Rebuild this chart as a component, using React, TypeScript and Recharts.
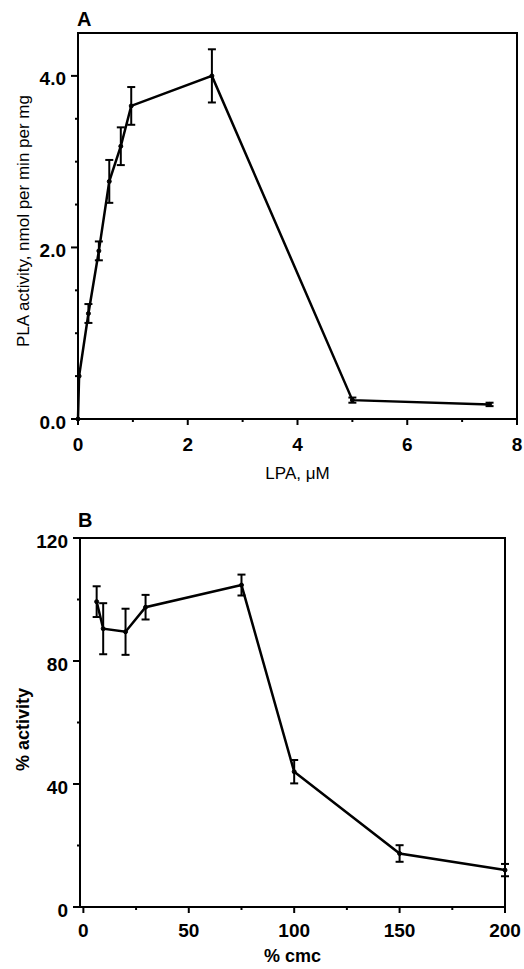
import React from 'react';
import { LineChart, Line, XAxis, YAxis, ErrorBar, ReferenceArea, Label } from 'recharts';

// Panel A: PLA activity vs LPA concentration
const lpaConc = [0, 0.02, 0.19, 0.38, 0.57, 0.78, 0.97, 2.44, 5.0, 7.5];
const plaActivity = [0, 0.5, 1.23, 1.96, 2.77, 3.18, 3.65, 4.0, 0.22, 0.17];
const plaError = [null, null, 0.11, 0.11, 0.25, 0.22, 0.22, 0.31, 0.03, 0.02];

const lpaTicks = [0, 1, 2, 3, 4, 5, 6, 7, 8];
const lpaLabels = [0, 2, 4, 6, 8];
const plaTicks = [0, 0.5, 1, 1.5, 2, 2.5, 3, 3.5, 4];
const plaLabels = [0, 2, 4];

// Panel B: % activity vs % cmc
const cmcPct = [6.3, 9.4, 20, 29.5, 75, 100, 150, 200];
const activityPct = [99.3, 90.5, 89.5, 97.5, 104.7, 44, 17.4, 12];
const activityError = [5, 8.3, 7.5, 4, 3.4, 3.8, 2.7, 2];

const cmcTicks = [0, 25, 50, 75, 100, 125, 150, 175, 200];
const cmcLabels = [0, 50, 100, 150, 200];
const actTicks = [0, 20, 40, 60, 80, 100, 120];
const actLabels = [0, 40, 80, 120];

const dataA = lpaConc.map((x, i) => ({ x, y: plaActivity[i], err: plaError[i] }));
const dataB = cmcPct.map((x, i) => ({ x, y: activityPct[i], err: activityError[i] }));

const FONT = '"Liberation Sans", Arial, Helvetica, sans-serif';
const tickStyle = { fontFamily: FONT, fontSize: 19, fontWeight: 700, fill: '#000' };

const makeXTick = (labels: number[], gap: number) => (props: any) => {
  const { x, y, payload } = props;
  const major = labels.includes(payload.value);
  return (
    <g>
      <line x1={x} y1={y} x2={x} y2={y + (major ? 6 : 3)} stroke="#000" strokeWidth={2} />
      {major && (
        <text x={x} y={y + gap} textAnchor="middle" dominantBaseline="central" style={tickStyle}>
          {payload.value}
        </text>
      )}
    </g>
  );
};

const makeYTick = (labels: number[], fmt: (v: number) => string) => (props: any) => {
  const { x, y, payload } = props;
  const major = labels.includes(payload.value);
  return (
    <g>
      <line x1={x} y1={y} x2={x - (major ? 7 : 3)} y2={y} stroke="#000" strokeWidth={2} />
      {major && (
        <text x={x - 12} y={y + 3} textAnchor="end" dominantBaseline="central" style={tickStyle}>
          {fmt(payload.value)}
        </text>
      )}
    </g>
  );
};

const xTitle = (text: string, dy: number, style: any) => (props: any) => {
  const { viewBox } = props;
  return (
    <text x={viewBox.x + viewBox.width / 2} y={viewBox.y + dy} textAnchor="middle" dominantBaseline="central" style={style}>
      {text}
    </text>
  );
};

const yTitle = (text: string, cx: number, dy: number, style: any) => (props: any) => {
  const { viewBox } = props;
  const cy = viewBox.y + viewBox.height / 2 + dy;
  return (
    <text x={cx} y={cy} transform={`rotate(-90 ${cx} ${cy})`} textAnchor="middle" dominantBaseline="central" style={style}>
      {text}
    </text>
  );
};

const letterStyle: React.CSSProperties = {
  position: 'absolute',
  fontFamily: FONT,
  fontSize: 20,
  fontWeight: 700,
  lineHeight: '20px',
  color: '#000',
};

export default function App() {
  return (
    <div style={{ position: 'absolute', left: 0, top: 0, width: 524, height: 969, background: '#fff' }}>
      <div style={{ ...letterStyle, left: 77, top: 9 }}>A</div>
      <div style={{ ...letterStyle, left: 78, top: 510 }}>B</div>

      <div style={{ position: 'absolute', left: 0, top: 0 }}>
        <LineChart width={524} height={485} data={dataA} margin={{ top: 33, right: 7, bottom: 6, left: 0 }}>
          <XAxis
            dataKey="x"
            type="number"
            domain={[0, 8]}
            ticks={lpaTicks}
            interval={0}
            height={60}
            axisLine={false}
            tickLine={false}
            tickSize={0}
            tickMargin={0}
            tick={makeXTick(lpaLabels, 25)}
          >
            <Label content={xTitle('LPA, μM', 54, { fontFamily: FONT, fontSize: 17, fill: '#000' })} />
          </XAxis>
          <YAxis
            type="number"
            domain={[0, 4.5]}
            ticks={plaTicks}
            interval={0}
            width={78}
            axisLine={false}
            tickLine={false}
            tickSize={0}
            tickMargin={0}
            tick={makeYTick(plaLabels, (v) => v.toFixed(1))}
          >
            <Label content={yTitle('PLA activity, nmol per min per mg', 23, -5, { fontFamily: FONT, fontSize: 17, fill: '#000' })} />
          </YAxis>
          <ReferenceArea x1={0} x2={8} y1={0} y2={4.5} fill="none" stroke="#000" strokeWidth={2} fillOpacity={0} />
          <Line
            dataKey="y"
            stroke="#000"
            strokeWidth={2.5}
            dot={{ r: 2, fill: '#000', stroke: '#000', strokeWidth: 1 }}
            isAnimationActive={false}
          >
            <ErrorBar dataKey="err" direction="y" width={4} stroke="#000" strokeWidth={2} />
          </Line>
        </LineChart>
      </div>

      <div style={{ position: 'absolute', left: 0, top: 485 }}>
        <LineChart width={524} height={484} data={dataB} margin={{ top: 53, right: 19, bottom: 2, left: 0 }}>
          <XAxis
            dataKey="x"
            type="number"
            domain={[-1.6, 200]}
            ticks={cmcTicks}
            interval={0}
            height={60}
            axisLine={false}
            tickLine={false}
            tickSize={0}
            tickMargin={0}
            tick={makeXTick(cmcLabels, 23)}
          >
            <Label content={xTitle('% cmc', 49, { fontFamily: FONT, fontSize: 18, fontWeight: 700, fill: '#000' })} />
          </XAxis>
          <YAxis
            type="number"
            domain={[0, 120]}
            ticks={actTicks}
            interval={0}
            width={80}
            axisLine={false}
            tickLine={false}
            tickSize={0}
            tickMargin={0}
            tick={makeYTick(actLabels, (v) => String(v))}
          >
            <Label content={yTitle('% activity', 23, 7, { fontFamily: FONT, fontSize: 18, fontWeight: 700, fill: '#000' })} />
          </YAxis>
          <ReferenceArea x1={-1.6} x2={200} y1={0} y2={120} fill="none" stroke="#000" strokeWidth={2} fillOpacity={0} />
          <Line
            dataKey="y"
            stroke="#000"
            strokeWidth={2.5}
            dot={{ r: 2, fill: '#000', stroke: '#000', strokeWidth: 1 }}
            isAnimationActive={false}
          >
            <ErrorBar dataKey="err" direction="y" width={4} stroke="#000" strokeWidth={2} />
          </Line>
        </LineChart>
      </div>
    </div>
  );
}
